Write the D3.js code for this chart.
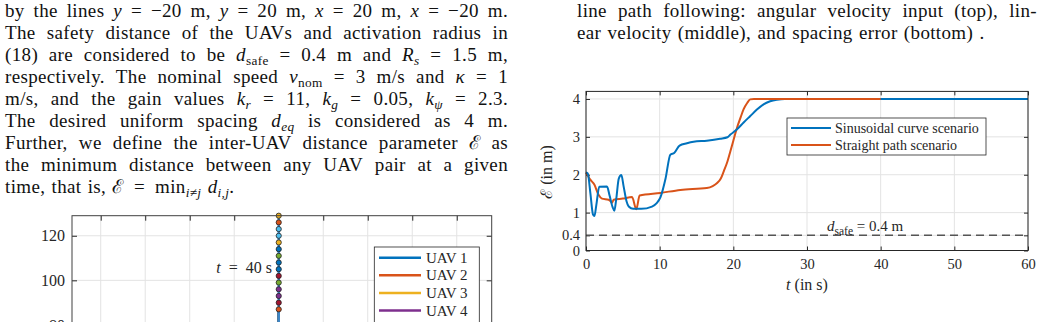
<!DOCTYPE html>
<meta charset="utf-8">
<script src="https://d3js.org/d3.v7.min.js"></script>
<style>
  body { margin: 0; background: #fff; }
  svg text { font-family: "Liberation Serif", "DejaVu Serif", serif; }
</style>
<svg id="page" width="1044" height="322"></svg>
<script>
// ---- data ----
// spacing parameter E over time, sinusoidal curve scenario
var timeSin = [0, 0.25, 0.6, 0.95, 1.15, 1.4, 1.8, 2.85, 3.2, 3.6, 3.85, 4.1, 4.45, 4.8, 5.1, 5.5, 5.8, 6.4, 7.5, 8.96, 9.6, 10.1, 10.8, 11.45, 12.0, 12.7, 13.7, 14.6, 16.4, 18.2, 19.2, 19.6, 20.5, 21.4, 22.3, 23.2, 24.1, 25.0, 25.9, 27, 60];
var epsSin  = [2.06, 2.03, 1.5, 0.95, 0.91, 1.2, 1.68, 1.69, 1.45, 1.15, 1.05, 1.35, 1.9, 1.99, 1.7, 1.3, 1.16, 1.1, 1.1, 1.16, 1.25, 1.4, 1.9, 2.53, 2.58, 2.77, 2.83, 2.87, 2.9, 2.95, 2.99, 3.06, 3.2, 3.38, 3.55, 3.72, 3.86, 3.94, 3.98, 4.0, 4.0];
// straight path scenario
var timeStr = [0, 0.58, 1.13, 1.7, 2.17, 3.07, 3.35, 3.53, 3.75, 5, 6.25, 6.83, 7.28, 10.1, 12.8, 16.4, 17.2, 17.8, 18.3, 18.7, 19.2, 19.6, 20.0, 20.5, 21.0, 21.4, 21.9, 22.3, 22.8, 40];
var epsStr  = [2.06, 1.87, 1.74, 1.47, 1.37, 1.34, 1.3, 1.26, 1.34, 1.37, 1.41, 1.09, 1.45, 1.52, 1.6, 1.65, 1.7, 1.78, 1.9, 2.09, 2.35, 2.62, 2.9, 3.24, 3.52, 3.73, 3.9, 3.99, 4.0, 4.0];
var timeTicks = [0, 10, 20, 30, 40, 50, 60];
var epsTicks = [0, 0.4, 1, 2, 3, 4];
var dSafe = 0.4;
var scenarioNames = ["Sinusoidal curve scenario", "Straight path scenario"];

// UAV positions at t = 40 s (left plot)
var uavNames = ["UAV 1", "UAV 2", "UAV 3", "UAV 4", "UAV 5", "UAV 6", "UAV 7"];
var uavColors = ["#0072BD", "#D95319", "#EDB120", "#7E2F8E", "#77AC30", "#4DBEEE", "#A2142F"];
var markerX = [0, 0, 0, 0, 0, 0, 0, 0, 0, 0, 0, 0, 0, 0, 0];
var markerY = [129, 126, 123, 120, 117, 114, 111, 108, 105, 102, 99, 96, 93, 90, 87];
var markerColor = ["#EDB120", "#D95319", "#4DBEEE", "#4DBEEE", "#EDB120", "#0072BD", "#77AC30", "#0072BD", "#0072BD", "#A2142F", "#77AC30", "#7E2F8E", "#7E2F8E", "#A2142F", "#D95319"];
var posXTicks = [-80, -60, -40, -20, 0, 20, 40, 60, 80];
var posYTicks = [60, 80, 100, 120];

// ---- text ----
var leftLines = [
  "by the lines {i:y} = −20 m, {i:y} = 20 m, {i:x} = 20 m, {i:x} = −20 m.",
  "The safety distance of the UAVs and activation radius in",
  "(18) are considered to be {i:d}{s:safe} = 0.4 m and {i:R}{si:s} = 1.5 m,",
  "respectively. The nominal speed {i:v}{s:nom} = 3 m/s and {i:κ} = 1",
  "m/s, and the gain values {i:k}{si:r} = 11, {i:k}{si:g} = 0.05, {i:k}{si:ψ} = 2.3.",
  "The desired uniform spacing {i:d}{si:eq} is considered as 4 m.",
  "Further, we define the inter-UAV distance parameter ℰ as",
  "the minimum distance between any UAV pair at a given",
  "time, that is, ℰ = min{si:i≠j} {i:d}{si:i,j}."
];
var rightLines = [
  "line path following: angular velocity input (top), lin-",
  "ear velocity (middle), and spacing error (bottom) ."
];

var svg = d3.select("#page");

function parseToken(tok) {
  var segs = [], re = /\{(i|s|si):([^}]*)\}|([^{]+)/g, m;
  while ((m = re.exec(tok))) {
    if (m[3]) segs.push({t: m[3], k: "r"});
    else segs.push({t: m[2], k: m[1]});
  }
  return segs;
}

// draws one line word by word, spreading the words for justified lines
function drawLine(g, str, x0, y, width, justify, size) {
  var items = str.split(" ").map(function(tok) {
    var t = g.append("text").attr("y", y).style("font-size", size + "px")
      .style("letter-spacing", "0.35px").attr("fill", "#111");
    var low = false;
    parseToken(tok).forEach(function(s) {
      var sp = t.append("tspan").text(s.t);
      if (s.k == "i" || s.k == "si") sp.style("font-style", "italic");
      if (s.k == "s" || s.k == "si") {
        sp.style("font-size", (size * 0.7) + "px");
        if (!low) { sp.attr("dy", size * 0.22); low = true; }
      } else if (low) { sp.attr("dy", -size * 0.22); low = false; }
    });
    return {node: t, w: t.node().getComputedTextLength(), eq: tok == "="};
  });
  var sum = d3.sum(items, function(d) { return d.w; });
  var gap = justify ? (width - sum) / (items.length - 1) : size * 0.33;
  var x = x0;
  items.forEach(function(it, i) {
    var extra = (!justify && (it.eq || (items[i + 1] && items[i + 1].eq))) ? size * 0.2 : 0;
    it.node.attr("x", x); x += it.w + gap + extra;
  });
}

var textG = svg.append("g");
leftLines.forEach(function(l, i) {
  drawLine(textG, l, 5, 16.5 + 22 * i, 503, i < leftLines.length - 1, 19);
});
rightLines.forEach(function(l, i) {
  drawLine(textG, l, 577, 16.5 + 22 * i, 460, i == 0, 19);
});

// ---- right chart: E vs t ----
var x = d3.scaleLinear().domain([0, 60]).range([586, 1028]);
var y = d3.scaleLinear().domain([0, 4.2]).range([250.5, 91.4]);
var ch = svg.append("g");

// grid
ch.selectAll(".gx").data(timeTicks).enter().append("line")
  .attr("x1", function(d) { return x(d); }).attr("x2", function(d) { return x(d); })
  .attr("y1", y(0)).attr("y2", y(4.2))
  .attr("stroke", "#e3e3e3").attr("stroke-width", 1);
ch.selectAll(".gy").data(epsTicks).enter().append("line")
  .attr("x1", x(0)).attr("x2", x(60))
  .attr("y1", function(d) { return y(d); }).attr("y2", function(d) { return y(d); })
  .attr("stroke", "#e3e3e3").attr("stroke-width", 1);

function styleAxis(g, size) {
  g.attr("font-family", null).attr("font-size", null);
  g.select(".domain").remove();
  g.selectAll(".tick line").attr("stroke", "#262626");
  g.selectAll("text").attr("fill", "#262626").style("font-size", size + "px")
    .style("font-family", "'Liberation Serif', serif");
}

ch.append("g").attr("transform", "translate(0," + y(0) + ")")
  .call(d3.axisBottom(x).tickValues(timeTicks).tickSize(-4).tickPadding(8))
  .call(styleAxis, 14.5);
ch.append("g").attr("transform", "translate(0," + y(4.2) + ")")
  .call(d3.axisTop(x).tickValues(timeTicks).tickSize(-4).tickFormat(""))
  .call(styleAxis, 14.5);
ch.append("g").attr("transform", "translate(" + x(0) + ",0)")
  .call(d3.axisLeft(y).tickValues(epsTicks).tickSize(-4).tickPadding(6).tickFormat(d3.format("")))
  .call(styleAxis, 14.5);
ch.append("g").attr("transform", "translate(" + x(60) + ",0)")
  .call(d3.axisRight(y).tickValues(epsTicks).tickSize(-4).tickFormat(""))
  .call(styleAxis, 14.5);

// safe distance
ch.append("line").attr("x1", x(0)).attr("x2", x(60)).attr("y1", y(dSafe)).attr("y2", y(dSafe))
  .attr("stroke", "#555").attr("stroke-width", 1.5).attr("stroke-dasharray", "8,5");
var ann = ch.append("text").attr("x", 827).attr("y", 231).attr("fill", "#262626").style("font-size", "15px");
ann.append("tspan").text("d").style("font-style", "italic");
ann.append("tspan").text("safe").attr("dy", 4).style("font-size", "11.5px");
ann.append("tspan").text("\u00a0=\u00a00.4\u00a0m").attr("dy", -4);

var line = d3.line().x(function(d) { return x(d[0]); }).y(function(d) { return y(d[1]); }).curve(d3.curveMonotoneX);
ch.append("path").datum(d3.zip(timeStr, epsStr)).attr("d", line)
  .attr("fill", "none").attr("stroke", "#D95319").attr("stroke-width", 2);
ch.append("path").datum(d3.zip(timeSin, epsSin)).attr("d", line)
  .attr("fill", "none").attr("stroke", "#0072BD").attr("stroke-width", 2);
// straight path plateau drawn on top up to t = 40
ch.append("path").datum(d3.zip(timeStr, epsStr).filter(function(d) { return d[0] >= 22.8; })).attr("d", line)
  .attr("fill", "none").attr("stroke", "#D95319").attr("stroke-width", 2);

// box
ch.append("rect").attr("x", x(0)).attr("y", y(4.2)).attr("width", x(60) - x(0)).attr("height", y(0) - y(4.2))
  .attr("fill", "none").attr("stroke", "#262626").attr("stroke-width", 1);

// labels
ch.append("text").attr("x", (x(0) + x(60)) / 2).attr("y", 290).attr("text-anchor", "middle")
  .attr("fill", "#262626").style("font-size", "16px")
  .html('<tspan font-style="italic">t</tspan>\u00a0(in s)');
ch.append("text").attr("transform", "translate(552,172) rotate(-90)").attr("text-anchor", "middle")
  .attr("fill", "#262626").style("font-size", "16px").text("ℰ\u00a0(in m)");

// legend
var leg = ch.append("g");
leg.append("rect").attr("x", 787).attr("y", 118).attr("width", 199).attr("height", 37)
  .attr("fill", "#fff").attr("stroke", "#262626").attr("stroke-width", 0.8);
scenarioNames.forEach(function(n, i) {
  var yy = 128 + 17 * i;
  leg.append("line").attr("x1", 791).attr("x2", 831).attr("y1", yy).attr("y2", yy)
    .attr("stroke", i == 0 ? "#0072BD" : "#D95319").attr("stroke-width", 2);
  leg.append("text").attr("x", 835).attr("y", yy + 4.5).attr("fill", "#262626").style("font-size", "14px").text(n);
});

// ---- left chart: UAV positions ----
var px = d3.scaleLinear().domain([-92.9, 95.7]).range([72, 491.7]);
var py = d3.scaleLinear().domain([60, 129]).range([369.5, 215.7]);
var lc = svg.append("g");
lc.selectAll(".gx").data(posXTicks).enter().append("line")
  .attr("x1", function(d) { return px(d); }).attr("x2", function(d) { return px(d); })
  .attr("y1", py(60)).attr("y2", py(129))
  .attr("stroke", "#e3e3e3");
lc.selectAll(".gy").data(posYTicks).enter().append("line")
  .attr("x1", px(-92.9)).attr("x2", px(95.7))
  .attr("y1", function(d) { return py(d); }).attr("y2", function(d) { return py(d); })
  .attr("stroke", "#e3e3e3");
lc.append("g").attr("transform", "translate(" + px(-92.9) + ",0)")
  .call(d3.axisLeft(py).tickValues(posYTicks).tickSize(-5).tickPadding(7))
  .call(styleAxis, 16);
lc.append("g").attr("transform", "translate(" + px(95.7) + ",0)")
  .call(d3.axisRight(py).tickValues(posYTicks).tickSize(-5).tickFormat(""))
  .call(styleAxis, 16);
lc.append("g").attr("transform", "translate(0," + py(129) + ")")
  .call(d3.axisTop(px).tickValues(posXTicks).tickSize(-5).tickFormat(""))
  .call(styleAxis, 16);

// trajectories below the markers
uavColors.slice().reverse().forEach(function(c) {
  lc.append("line").attr("x1", px(0)).attr("x2", px(0)).attr("y1", py(60)).attr("y2", py(87))
    .attr("stroke", c).attr("stroke-width", 2.5);
});
lc.append("line").attr("x1", px(0)).attr("x2", px(0)).attr("y1", py(60)).attr("y2", py(129))
  .attr("stroke", "#3d86c6").attr("stroke-width", 2.5);
lc.selectAll(".mk").data(markerY).enter().append("circle")
  .attr("cx", function(d, i) { return px(markerX[i]); })
  .attr("cy", function(d) { return py(d); })
  .attr("r", 2.6)
  .attr("fill", function(d, i) { return markerColor[i]; })
  .attr("stroke", "#222").attr("stroke-width", 0.8);

lc.append("rect").attr("x", px(-92.9)).attr("y", py(129)).attr("width", px(95.7) - px(-92.9)).attr("height", py(60) - py(129))
  .attr("fill", "none").attr("stroke", "#404040").attr("stroke-width", 1);

var t40 = lc.append("text").attr("x", 272).attr("y", 273).attr("text-anchor", "end")
  .attr("fill", "#262626").style("font-size", "16px");
t40.append("tspan").text("t").style("font-style", "italic");
t40.append("tspan").text("\u2002=\u200240\u00a0s");

var leg2 = lc.append("g");
leg2.append("rect").attr("x", 374.3).attr("y", 247).attr("width", 105).attr("height", 140)
  .attr("fill", "#fff").attr("stroke", "#262626").attr("stroke-width", 0.8);
uavNames.forEach(function(n, i) {
  var yy = 257.7 + 17.6 * i;
  leg2.append("line").attr("x1", 379).attr("x2", 421).attr("y1", yy).attr("y2", yy)
    .attr("stroke", uavColors[i]).attr("stroke-width", 2.5);
  leg2.append("text").attr("x", 426).attr("y", yy + 5).attr("fill", "#262626").style("font-size", "15px").text(n);
});
</script>
